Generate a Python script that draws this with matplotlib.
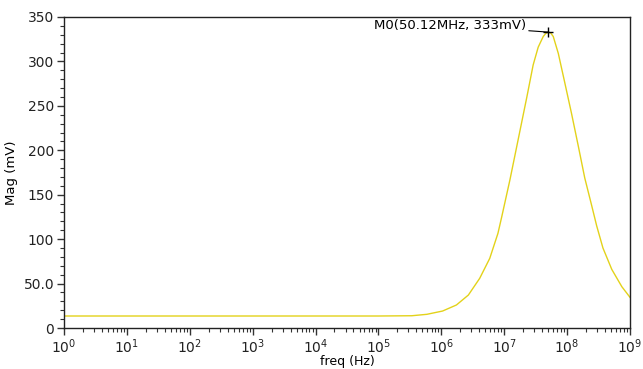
import numpy as np
import matplotlib
matplotlib.use("Agg")
import matplotlib.pyplot as plt
from matplotlib.ticker import MultipleLocator, FixedLocator, FixedFormatter, LogLocator, NullFormatter

# Data (log10 frequency, magnitude in mV)
log_freq = [0.0, 1.0, 2.0, 3.0, 4.0, 5.0, 5.53, 5.77, 6.02, 6.24, 6.43, 6.61, 6.77, 6.90,
            6.96, 7.09, 7.22, 7.36, 7.46, 7.54, 7.62, 7.66, 7.70,
            7.74, 7.78, 7.86, 7.96, 8.07, 8.18, 8.28, 8.39, 8.47, 8.57, 8.71, 8.87, 9.0]
mag_mv = [13.5, 13.5, 13.5, 13.5, 13.5, 13.5, 13.8, 15.4, 19.1, 25.9, 37.1, 55.9, 78.4, 106.5,
          125, 166.5, 211.5, 260, 296, 316, 328, 331.5, 333,
          332, 328, 309, 277, 241.5, 204, 169, 138, 115, 90, 66, 46.5, 34.5]
marker_freq = 50.12e6
marker_mag = 333
marker_label = "M0(50.12MHz, 333mV)"
x_decades = [0, 1, 2, 3, 4, 5, 6, 7, 8, 9]
y_ticks = [0, 50, 100, 150, 200, 250, 300, 350]
y_tick_labels = ["0", "50.0", "100", "150", "200", "250", "300", "350"]

freq = 10 ** np.array(log_freq)

plt.rcParams['font.family'] = ['DejaVu Sans']
fig = plt.figure(figsize=(6.43, 3.69), dpi=100)
ax = fig.add_axes([64/643, 41/369, (630-64)/643, (328-17)/369])

ax.plot(freq, mag_mv, color="#e3d21a", lw=1.0)
ax.set_xscale("log")
ax.set_xlim(1, 1e9)
ax.set_ylim(0, 350)

ax.yaxis.set_major_locator(FixedLocator(y_ticks))
ax.yaxis.set_major_formatter(FixedFormatter(y_tick_labels))
ax.yaxis.set_minor_locator(MultipleLocator(10))
ax.xaxis.set_major_locator(FixedLocator([10.0 ** d for d in x_decades]))
ax.xaxis.set_major_formatter(FixedFormatter([r"$10^{%d}$" % d for d in x_decades]))
ax.xaxis.set_minor_locator(FixedLocator([m * 10.0 ** d for d in x_decades[:-1] for m in range(2, 10)]))
ax.xaxis.set_minor_formatter(NullFormatter())

ax.tick_params(axis="both", which="major", length=5, width=1, labelsize=10, direction="out",
               colors="#333333", pad=2)
ax.tick_params(axis="both", which="minor", length=3, width=0.8, direction="out", colors="#333333")
for lab in ax.get_xticklabels() + ax.get_yticklabels():
    lab.set_color("#222222")
for s in ax.spines.values():
    s.set_linewidth(1.0)
    s.set_color("#222222")

ax.set_xlabel("freq (Hz)", fontsize=9)
ax.set_ylabel("Mag (mV)", fontsize=9.5)
ax.yaxis.set_label_coords(-0.082, 0.5)
ax.xaxis.set_label_coords(0.5, -0.088)

ax.plot([marker_freq], [marker_mag], marker="+", color="black", ms=7, mew=1)
ax.annotate(marker_label, xy=(marker_freq, marker_mag), xytext=(-16, 5),
            textcoords="offset points", ha="right", va="center", fontsize=9.5,
            arrowprops=dict(arrowstyle="-", color="black", lw=0.8, shrinkA=0, shrinkB=0))

fig.savefig("out.png", dpi=100)
